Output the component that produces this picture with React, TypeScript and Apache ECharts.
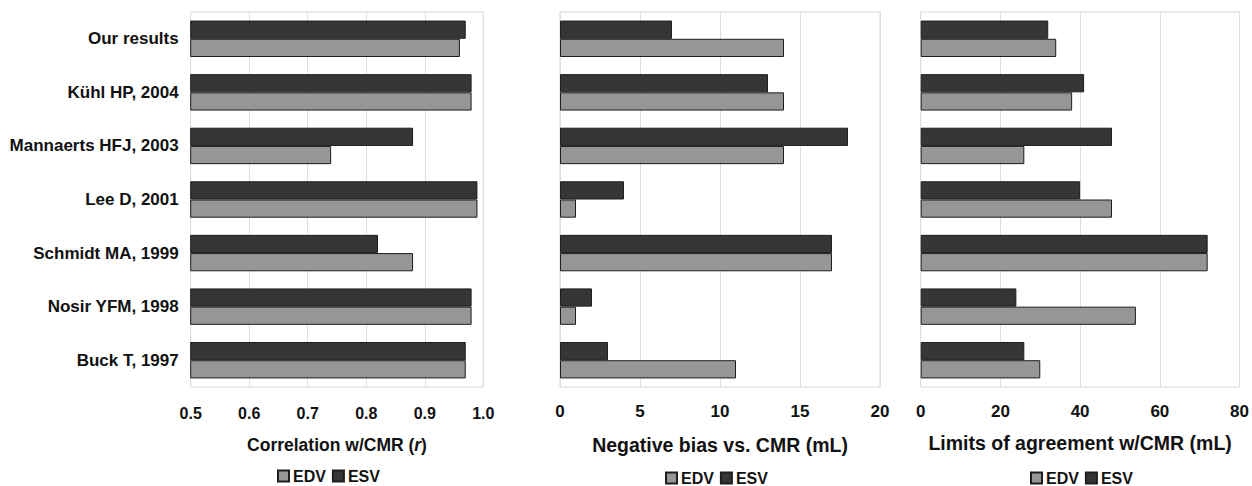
import React, { useEffect, useRef } from 'react';
import * as echarts from 'echarts';

const categories = [
  'Our results',
  'Kühl HP, 2004',
  'Mannaerts HFJ, 2003',
  'Lee D, 2001',
  'Schmidt MA, 1999',
  'Nosir YFM, 1998',
  'Buck T, 1997',
];
const corrEDV = [0.96, 0.98, 0.74, 0.99, 0.88, 0.98, 0.97];
const corrESV = [0.97, 0.98, 0.88, 0.99, 0.82, 0.98, 0.97];
const biasEDV = [14, 14, 14, 1, 17, 1, 11];
const biasESV = [7, 13, 18, 4, 17, 2, 3];
const loaEDV = [34, 38, 26, 48, 72, 54, 30];
const loaESV = [32, 41, 48, 40, 72, 24, 26];
const legendNames = ['EDV', 'ESV'];

const FONT = "'Liberation Sans', Arial, sans-serif";
const EDV_COLOR = '#969696';
const ESV_COLOR = '#363636';
const BORDER = '#1e1e1e';

export default function App() {
  const ref = useRef<HTMLDivElement>(null);
  useEffect(() => {
    if (!ref.current) return;
    const chart = echarts.init(ref.current, undefined, { renderer: 'svg' });
    const grids = [
      { left: 190.7, top: 12, width: 292.6, height: 375 },
      { left: 560, top: 12, width: 320, height: 375 },
      { left: 920.7, top: 12, width: 322.7, height: 375 },
    ].map((g) => ({ ...g, show: true, borderColor: '#d9d9d9', borderWidth: 1, backgroundColor: 'transparent' }));

    const xCommon = (i: number) => ({
      type: 'value',
      gridIndex: i,
      axisLine: { show: false },
      axisTick: { show: false },
      splitLine: { show: true, lineStyle: { color: '#dedede', width: 1 } },
      nameLocation: 'middle',
    });
    const titleStyle = (size: number) => ({
      fontSize: size,
      fontWeight: 'bold',
      fontFamily: FONT,
      color: '#111',
    });

    const xAxes = [
      {
        ...xCommon(0),
        min: 0.5,
        max: 1.0,
        interval: 0.1,
        axisLabel: { margin: 18, fontSize: 16, fontWeight: 'bold', fontFamily: FONT, color: '#111', formatter: (v: number) => v.toFixed(1) },
        name: 'Correlation w/CMR ({i|r})',
        nameGap: 49,
        nameTextStyle: {
          ...titleStyle(17.5),
          rich: { i: { ...titleStyle(17.5), fontStyle: 'italic' } },
        },
      },
      {
        ...xCommon(1),
        min: 0,
        max: 20,
        interval: 5,
        axisLabel: { margin: 16, fontSize: 17, fontWeight: 'bold', fontFamily: FONT, color: '#111' },
        name: 'Negative bias vs. CMR (mL)',
        nameGap: 48,
        nameTextStyle: titleStyle(19.5),
      },
      {
        ...xCommon(2),
        min: 0,
        max: 80,
        interval: 20,
        axisLabel: { margin: 16, fontSize: 17, fontWeight: 'bold', fontFamily: FONT, color: '#111' },
        name: 'Limits of agreement w/CMR (mL)',
        nameGap: 46,
        nameTextStyle: titleStyle(19.5),
      },
    ];

    const yAxes = [0, 1, 2].map((i) => ({
      type: 'category',
      gridIndex: i,
      data: categories,
      inverse: true,
      axisLine: { show: false },
      axisTick: { show: false },
      axisLabel: {
        show: i === 0,
        margin: 12,
        fontSize: 17,
        fontWeight: 'bold',
        fontFamily: FONT,
        color: '#111',
      },
    }));

    const mk = (name: string, data: number[], i: number, color: string) => ({
      type: 'bar',
      name,
      data,
      xAxisIndex: i,
      yAxisIndex: i,
      barGap: '0%',
      barCategoryGap: '32%',
      itemStyle: { color, borderColor: BORDER, borderWidth: 1 },
    });

    const series = [
      mk('ESV', corrESV, 0, ESV_COLOR),
      mk('EDV', corrEDV, 0, EDV_COLOR),
      mk('ESV', biasESV, 1, ESV_COLOR),
      mk('EDV', biasEDV, 1, EDV_COLOR),
      mk('ESV', loaESV, 2, ESV_COLOR),
      mk('EDV', loaEDV, 2, EDV_COLOR),
    ];

    const legendCommon = {
      data: legendNames,
      orient: 'horizontal',
      itemWidth: 11,
      itemHeight: 11,
      itemGap: 6,
      padding: 0,
      icon: 'rect',
      selectedMode: false,
      textStyle: { fontSize: 16, lineHeight: 16, fontWeight: 'bold', fontFamily: FONT, color: '#111', padding: [0, 0, 0, -1] },
    };

    chart.setOption({
      animation: false,
      backgroundColor: '#ffffff',
      grid: grids,
      xAxis: xAxes,
      yAxis: yAxes,
      series,
      legend: [
        { ...legendCommon, left: 277, top: 468 },
        { ...legendCommon, left: 665, top: 470 },
        { ...legendCommon, left: 1030, top: 470 },
      ],
    } as any);
    return () => chart.dispose();
  }, []);
  return <div ref={ref} style={{ position: 'absolute', left: 0, top: 0, width: 1252, height: 486 }} />;
}
